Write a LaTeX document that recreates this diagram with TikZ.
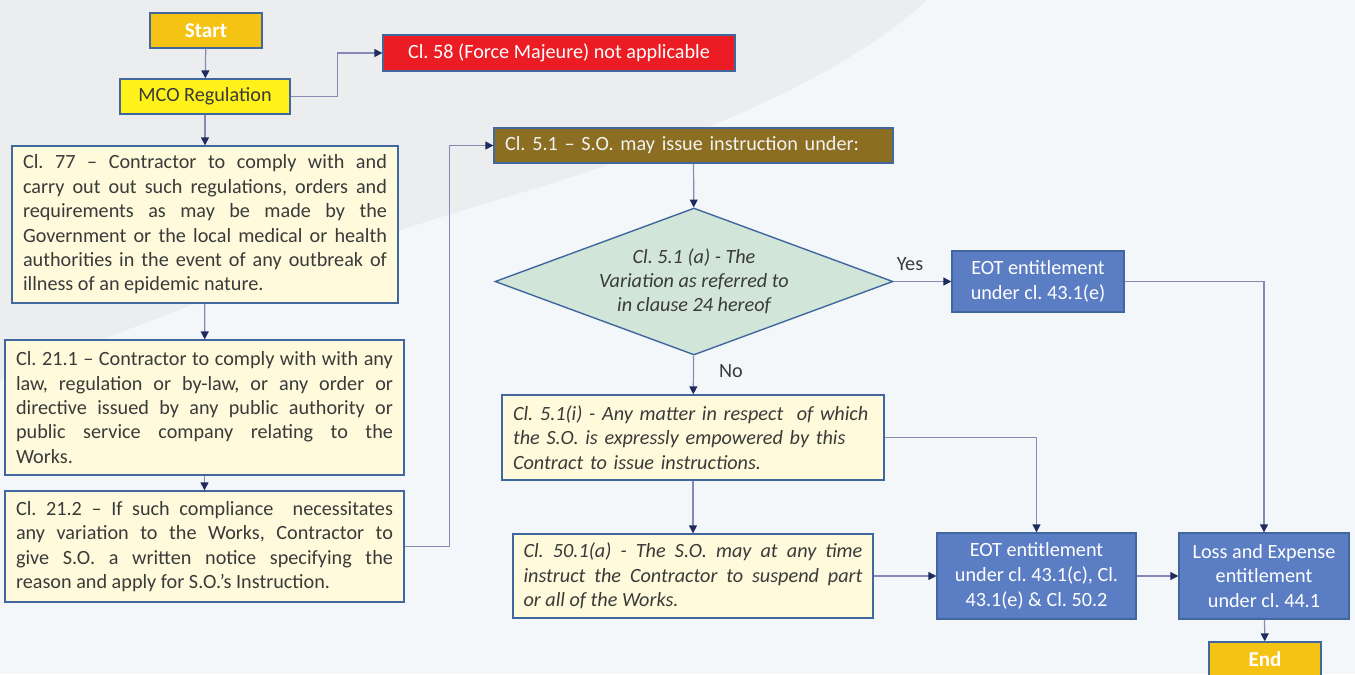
\documentclass[tikz,border=0pt]{standalone}
\usepackage{fontspec}
\setmainfont{Carlito}
\frenchspacing
\usetikzlibrary{shapes.geometric,arrows.meta}

\definecolor{txtgrey}{HTML}{3A3A3A}
\definecolor{bordblue}{HTML}{41689E}
\definecolor{linecol}{HTML}{8589B4}
\definecolor{tipnavy}{HTML}{1F2A5E}
\definecolor{startgold}{HTML}{F5C313}
\definecolor{mcoyellow}{HTML}{FFF21A}
\definecolor{fmred}{HTML}{EC1C24}
\definecolor{cream}{HTML}{FEFADB}
\definecolor{sobrown}{HTML}{8B6E22}
\definecolor{mint}{HTML}{D1E6D9}
\definecolor{eotblue}{HTML}{5B7DC3}
\definecolor{bggrey}{HTML}{ECEDEE}
\definecolor{bglight}{HTML}{F3F7F9}

\tikzstyle{box} = [rectangle,draw=bordblue,line width=0.8pt,inner xsep=0.22cm,inner ysep=0pt,text=txtgrey,font=\fontsize{11.5}{13.9}\selectfont]
\tikzstyle{terminal} = [box,fill=startgold,text=white,font=\fontsize{12}{14}\selectfont\bfseries,minimum width=2.24cm,minimum height=0.7cm]
\tikzstyle{clause} = [box,fill=cream,align=justify]
\tikzstyle{entitle} = [box,fill=eotblue,text=white,align=center,font=\fontsize{11.5}{14.2}\selectfont]
\tikzstyle{decision} = [diamond,draw=bordblue,line width=0.8pt,fill=mint,inner sep=0pt,shape aspect=2.7,minimum width=7.96cm,minimum height=2.94cm,align=center,text=txtgrey,font=\fontsize{11.5}{13.6}\selectfont\itshape]
\tikzstyle{answer} = [text=txtgrey,font=\fontsize{11.5}{13.9}\selectfont]
\tikzstyle{link} = [draw=linecol,line width=0.7pt,-{Triangle[length=4.5pt,width=4.5pt,color=tipnavy]}]

\begin{document}
\begin{tikzpicture}[x=0.02cm,y=-0.02cm]
    \useasboundingbox (0,0) rectangle (1355,674);
    %background
    \fill[bglight] (0,0) rectangle (1355,674);
    \fill[bggrey] (0,0) -- (927,0) .. controls (820,100) and (600,170) .. (480,205)
      .. controls (330,250) and (150,320) .. (0,380) -- cycle;

    \node[terminal] (start) at (206,30.5) {Start};
    \node[box,fill=mcoyellow,minimum width=3.4cm,minimum height=0.7cm] (mco) at (205,96.5) {MCO Regulation};
    \node[box,fill=fmred,text=white,minimum width=7.04cm,minimum height=0.72cm] (fm) at (559,53) {Cl. 58 (Force Majeure) not applicable};

    \node[clause,text width=7.28cm,minimum height=3.14cm] (c77) at (205,224.5) {Cl. 77 -- Contractor to comply with and\linebreak
      carry out out such regulations, orders and\linebreak
      requirements as may be made by the\linebreak
      Government or the local medical or health\linebreak
      authorities in the event of any outbreak of\linebreak
      illness of an epidemic nature.};
    \node[clause,text width=7.54cm,minimum height=2.7cm] (c211) at (204.5,407.5) {Cl. 21.1 -- Contractor to comply with with any\linebreak
      law, regulation or by-law, or any order or\linebreak
      directive issued by any public authority or\linebreak
      public service company relating to the\linebreak
      Works.};
    \node[clause,text width=7.54cm,minimum height=2.22cm] (c212) at (204.5,546.5) {Cl. 21.2 -- If such compliance\ \ necessitates\linebreak
      any variation to the Works, Contractor to\linebreak
      give S.O. a written notice specifying the\linebreak
      reason and apply for S.O.’s Instruction.};

    \node[box,fill=sobrown,text=white!95!black,align=left,text width=7.54cm,minimum height=0.7cm] (c51) at (693.5,145.5) {Cl. 5.1 -- S.O. may issue instruction under:};
    \node[decision] (dec) at (694,281.5) {Cl. 5.1 (a) - The\\Variation as referred to\\in clause 24 hereof};
    \node[entitle,minimum width=3.44cm,minimum height=1.22cm] (eot1) at (1038,281.5) {EOT entitlement\\under cl. 43.1(e)};

    \node[clause,align=left,font=\fontsize{11.5}{13.9}\selectfont\itshape,text width=7.2cm,minimum height=1.7cm] (c51i) at (693,437.5) {Cl. 5.1(i) - Any matter in respect\ \ of which\\
      the S.O. is expressly empowered by this\\
      Contract to issue instructions.};
    \node[clause,font=\fontsize{11.5}{13.9}\selectfont\itshape,inner xsep=0.21cm,text width=6.78cm,minimum height=1.68cm] (c501) at (693,576) {Cl. 50.1(a) - The S.O. may at any time\linebreak
      instruct the Contractor to suspend part\linebreak
      or all of the Works.};

    \node[entitle,minimum width=3.98cm,minimum height=1.72cm] (eot2) at (1036.5,576) {EOT entitlement\\under cl. 43.1(c), Cl.\\43.1(e) \& Cl. 50.2};
    \node[entitle,minimum width=3.4cm,minimum height=1.72cm] (loss) at (1264,576) {Loss and Expense\\entitlement\\under cl. 44.1};
    \node[terminal] (endn) at (1265,659.5) {End};

    \node[answer] (yes) at (910,264) {Yes};
    \node[answer] (no) at (731,371) {No};

    %edges or lines
    \path
    \foreach \startnode/\endnode in {
      start/mco, mco/c77, c77/c211, c211/c212, c51/dec, dec/eot1,
      dec/c51i, c51i/c501, c501/eot2, eot2/loss, loss/endn}
    {
      (\startnode) edge[link] (\endnode)
    };
    \draw[link] (mco.east) -- ++(47,0) |- (fm.west);
    \draw[link] (c212.east) -- ++(45,0) |- (c51.west);
    \draw[link] (c51i.east) -| (eot2.north);
    \draw[link] (eot1.east) -| (loss.north);
\end{tikzpicture}
\end{document}
